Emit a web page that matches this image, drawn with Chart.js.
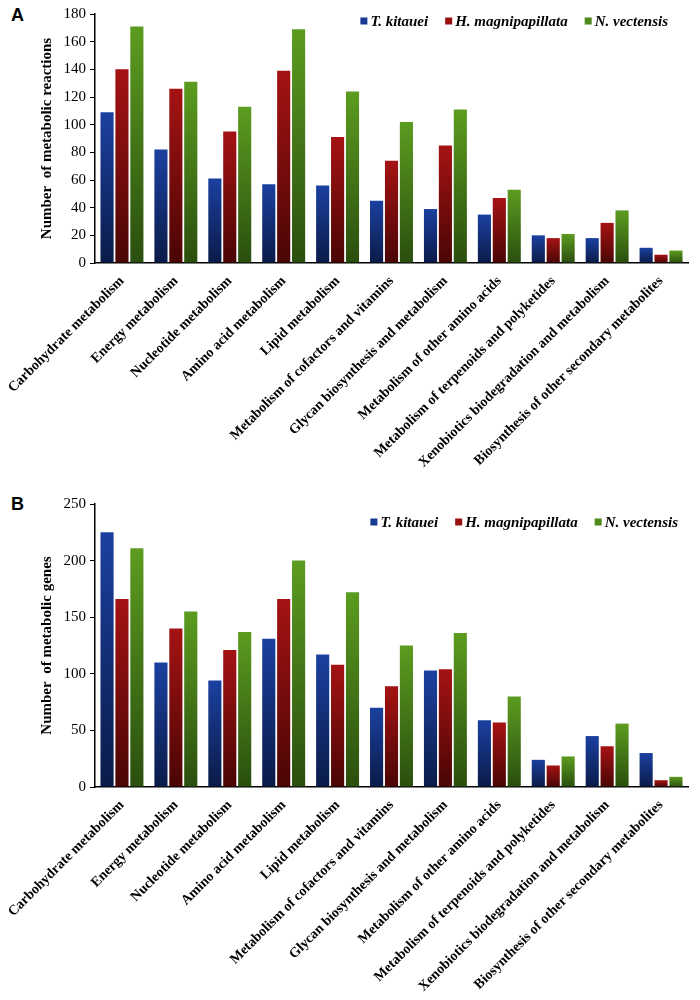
<!DOCTYPE html>
<html>
<head>
<meta charset="utf-8">
<script src="https://cdn.jsdelivr.net/npm/chart.js@4.4.1/dist/chart.umd.min.js"></script>
<style>
  body { margin: 0; background: #fff; width: 700px; height: 1000px; position: relative; overflow: hidden; }
  .panel { position: absolute; left: 0; }
  .tag { position: absolute; left: 11px; font: bold 18px 'Liberation Sans', Arial, sans-serif; color: #000; }
</style>
</head>
<body>
<div class="tag" style="top:5px;">A</div>
<div class="tag" style="top:494px;">B</div>
<div class="panel" style="top:0;"><canvas id="chartA" width="700" height="485"></canvas></div>
<div class="panel" style="top:490px;"><canvas id="chartB" width="700" height="510"></canvas></div>
<script>
const categories = [
    'Carbohydrate metabolism', 'Energy metabolism', 'Nucleotide metabolism',
    'Amino acid metabolism', 'Lipid metabolism', 'Metabolism of cofactors and vitamins',
    'Glycan biosynthesis and metabolism', 'Metabolism of other amino acids',
    'Metabolism of terpenoids and polyketides', 'Xenobiotics biodegradation and metabolism',
    'Biosynthesis of other secondary metabolites'
];
const speciesNames = ['T. kitauei', 'H. magnipapillata', 'N. vectensis'];

// A: metabolic reactions
const reactionsKitauei = [109, 82, 61, 57, 56, 45, 39, 35, 20, 18, 11];
const reactionsHydra = [140, 126, 95, 139, 91, 74, 85, 47, 18, 29, 6];
const reactionsNematostella = [171, 131, 113, 169, 124, 102, 111, 53, 21, 38, 9];

// B: metabolic genes
const genesKitauei = [225, 110, 94, 131, 117, 70, 103, 59, 24, 45, 30];
const genesHydra = [166, 140, 121, 166, 108, 89, 104, 57, 19, 36, 6];
const genesNematostella = [211, 155, 137, 200, 172, 125, 136, 80, 27, 56, 9];

const serif = "'Liberation Serif', 'Times New Roman', serif";
const barColors = [
    { top: '#1b40a0', bottom: '#0a1b48', legend: '#173a92' },
    { top: '#a51313', bottom: '#4a0505', legend: '#981010' },
    { top: '#5c9c20', bottom: '#2a4e0e', legend: '#4d8a1a' }
];

// gradient per bar: bright at the top, dark at the base
function barFill(idx) {
    return function (context) {
        const chart = context.chart;
        const yScale = chart.scales.y;
        if (!chart.chartArea || !yScale || context.raw == null) return barColors[idx].legend;
        const yTop = yScale.getPixelForValue(context.raw);
        const yBase = yScale.getPixelForValue(0);
        if (yBase - yTop < 1) return barColors[idx].legend;
        const g = chart.ctx.createLinearGradient(0, yTop, 0, yBase);
        g.addColorStop(0, barColors[idx].top);
        g.addColorStop(1, barColors[idx].bottom);
        return g;
    };
}

// legend drawn inside the plot, top right, on one line
const innerLegend = {
    id: 'innerLegend',
    afterDraw(chart, args, opts) {
        const c = chart.ctx;
        c.save();
        c.font = 'italic bold 15px ' + serif;
        c.textBaseline = 'middle';
        const box = 7, gapText = 3, gapItem = 17;
        const widths = chart.data.datasets.map(d => c.measureText(d.label).width);
        let total = widths.reduce((a, b) => a + b, 0) + widths.length * (box + gapText) + gapItem * (widths.length - 1);
        let x = opts.right - total;
        const y = opts.y;
        chart.data.datasets.forEach((d, i) => {
            c.fillStyle = barColors[i].legend;
            c.fillRect(x, y - box / 2, box, box);
            x += box + gapText;
            c.fillStyle = '#000';
            c.fillText(d.label, x, y + 1);
            x += widths[i] + gapItem;
        });
        c.restore();
    }
};

function makeChart(id, series, yMax, yStep, yTitle, xHeight, legendY, legendRight) {
    const ctx = document.getElementById(id);
    return new Chart(ctx, {
        type: 'bar',
        data: {
            labels: categories,
            datasets: series.map((vals, i) => ({
                label: speciesNames[i],
                data: vals,
                backgroundColor: barFill(i),
                borderWidth: 0,
                categoryPercentage: 0.83,
                barPercentage: 0.88
            }))
        },
        plugins: [innerLegend],
        options: {
            responsive: false,
            animation: false,
            layout: { padding: { top: 14, right: 12, left: 0, bottom: 0 } },
            plugins: {
                tooltip: { enabled: false },
                legend: { display: false },
                innerLegend: { y: legendY, right: legendRight }
            },
            scales: {
                x: {
                    grid: { display: false },
                    border: { display: true, color: '#000', width: 1.5 },
                    ticks: {
                        color: '#000',
                        autoSkip: false,
                        minRotation: 45,
                        maxRotation: 45,
                        padding: 2,
                        font: { family: serif, size: 14, weight: 'bold' }
                    },
                    afterFit: (scale) => { scale.height = xHeight; }
                },
                y: {
                    min: 0,
                    max: yMax,
                    ticks: {
                        stepSize: yStep,
                        color: '#000',
                        padding: 4,
                        font: { family: serif, size: 15 }
                    },
                    grid: { drawOnChartArea: false, drawTicks: true, tickLength: 5, color: '#000', lineWidth: 1 },
                    border: { display: true, color: '#000', width: 1.5 },
                    title: {
                        display: true,
                        text: yTitle,
                        color: '#000',
                        padding: { top: 38, bottom: 0 },
                        font: { family: serif, size: 15, weight: 'bold' }
                    },
                    afterFit: (scale) => { scale.width = 95; }
                }
            }
        }
    });
}

makeChart('chartA', [reactionsKitauei, reactionsHydra, reactionsNematostella],
    180, 20, 'Number  of metabolic reactions', 222, 21, 668);
makeChart('chartB', [genesKitauei, genesHydra, genesNematostella],
    250, 50, 'Number  of metabolic genes', 213, 32, 678);
</script>
</body>
</html>
